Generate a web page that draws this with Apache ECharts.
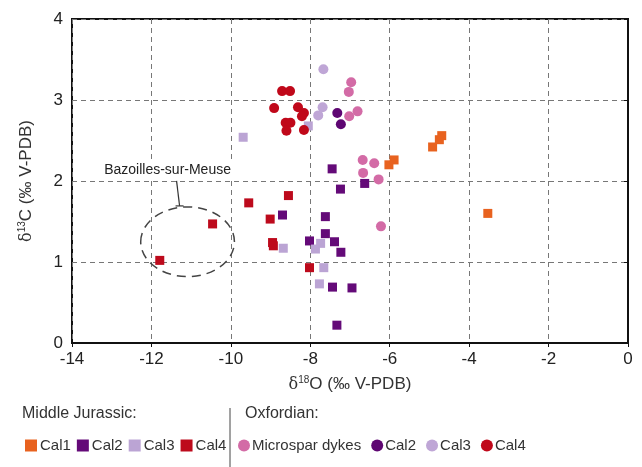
<!DOCTYPE html>
<html>
<head>
<meta charset="utf-8">
<script src="https://cdn.jsdelivr.net/npm/echarts@6/dist/echarts.min.js"></script>
<style>
  html, body { margin: 0; padding: 0; background: #fff; }
  #isotope { width: 642px; height: 467px; }
</style>
</head>
<body>
<div id="isotope"></div>
<script>
  // Middle Jurassic (squares)
  const mjCal1 = [[-6.02, 2.20], [-5.89, 2.26], [-4.92, 2.42], [-4.75, 2.51], [-4.69, 2.56], [-3.53, 1.60]];
  const mjCal2 = [[-7.45, 2.15], [-6.63, 1.97], [-7.24, 1.90], [-8.70, 1.58], [-7.62, 1.56], [-7.62, 1.35],
    [-8.02, 1.26], [-7.39, 1.25], [-7.23, 1.12], [-7.44, 0.69], [-6.95, 0.68], [-7.33, 0.22]];
  const mjCal3 = [[-9.69, 2.54], [-8.05, 2.68], [-8.68, 1.17], [-7.74, 1.23], [-7.87, 1.16], [-7.66, 0.93], [-7.77, 0.73]];
  const mjCal4 = [[-8.55, 1.82], [-9.55, 1.73], [-9.01, 1.53], [-10.46, 1.47], [-8.95, 1.24], [-8.93, 1.20],
    [-11.79, 1.02], [-8.02, 0.93]];

  // Oxfordian (circles)
  const oxMicrospar = [[-6.97, 3.22], [-7.03, 3.10], [-6.81, 2.86], [-7.02, 2.80], [-6.68, 2.26], [-6.39, 2.22],
    [-6.67, 2.10], [-6.28, 2.02], [-6.22, 1.44]];
  const oxCal2 = [[-7.32, 2.84], [-7.23, 2.70]];
  const oxCal3 = [[-7.67, 3.38], [-7.69, 2.91], [-7.80, 2.81]];
  const oxCal4 = [[-8.71, 3.11], [-8.51, 3.11], [-8.91, 2.90], [-8.31, 2.91], [-8.16, 2.84], [-8.21, 2.80],
    [-8.62, 2.72], [-8.50, 2.72], [-8.60, 2.62], [-8.16, 2.63]];

  // Bazoilles-sur-Meuse outline (centre and radii in data units)
  const siteCentre = [-11.09, 1.25];
  const siteRadius = [1.18, 0.43];

  const font = 'Liberation Sans, Arial, sans-serif';

  function sq(name, data, color) {
    return { name: name, type: 'scatter', symbol: 'rect', symbolSize: 9, data: data,
      itemStyle: { color: color, opacity: 1 }, z: 3 };
  }
  function dot(name, data, color) {
    return { name: name, type: 'scatter', symbol: 'circle', symbolSize: 10, data: data,
      itemStyle: { color: color, opacity: 1 }, z: 4 };
  }

  const chart = echarts.init(document.getElementById('isotope'));

  const nameRich = {
    d: { fontSize: 16, color: '#333', fontFamily: 'DejaVu Serif' },
    s: { fontSize: 10, color: '#333', padding: [0, 0, 9, 0] },
    n: { fontSize: 17, color: '#333' }
  };

  const staticGraphic = [
    { type: 'text', left: 22, top: 406, style: { text: 'Middle Jurassic:', font: '16px ' + font, fill: '#333' } },
    { type: 'text', left: 245, top: 406, style: { text: 'Oxfordian:', font: '16px ' + font, fill: '#333' } },
    { type: 'line', shape: { x1: 230, y1: 408, x2: 230, y2: 467 }, style: { stroke: '#444', lineWidth: 1 } }
  ];

  const option = {
    animation: false,
    textStyle: { fontFamily: font },
    grid: { left: 72, right: 14, top: 19, bottom: 124, show: true, borderColor: '#111', borderWidth: 2 },
    xAxis: {
      type: 'value', min: -14, max: 0, interval: 2,
      name: '{d|δ}{s|18}{n|O (‰ V-PDB)}',
      nameLocation: 'middle', nameGap: 32,
      nameTextStyle: { rich: nameRich },
      axisLine: { lineStyle: { color: '#111', width: 2 } },
      axisTick: { show: true, length: 4, lineStyle: { color: '#111' } },
      axisLabel: { fontSize: 17, color: '#222', margin: 8 },
      splitLine: { lineStyle: { color: '#777', type: [5, 4], width: 1 } }
    },
    yAxis: {
      type: 'value', min: 0, max: 4, interval: 1,
      name: '{d|δ}{s|13}{n|C (‰ V-PDB)}',
      nameLocation: 'middle', nameGap: 36, nameRotate: 90,
      nameTextStyle: { rich: nameRich },
      axisLine: { lineStyle: { color: '#111', width: 2 } },
      axisTick: { show: true, length: 4, lineStyle: { color: '#111' } },
      axisLabel: { fontSize: 17, color: '#222', margin: 9 },
      splitLine: { lineStyle: { color: '#777', type: [5, 4], width: 1 } }
    },
    legend: [
      {
        data: ['MJ Cal1', 'MJ Cal2', 'MJ Cal3', 'MJ Cal4'],
        left: 20, top: 433, icon: 'rect', itemWidth: 12, itemHeight: 12, itemGap: 6,
        formatter: function (n) { return n.split(' ').slice(1).join(' '); },
        textStyle: { fontSize: 15, color: '#333', padding: [0, 0, 0, -2] }
      },
      {
        data: ['OX Microspar dykes', 'OX Cal2', 'OX Cal3', 'OX Cal4'],
        left: 233, top: 433, icon: 'circle', itemWidth: 12, itemHeight: 12, itemGap: 10,
        formatter: function (n) { return n.split(' ').slice(1).join(' '); },
        textStyle: { fontSize: 15, color: '#333', padding: [0, 0, 0, -3] }
      }
    ],
    series: [
      sq('MJ Cal1', mjCal1, '#e8621f'),
      sq('MJ Cal2', mjCal2, '#640a78'),
      sq('MJ Cal3', mjCal3, '#bba4d4'),
      sq('MJ Cal4', mjCal4, '#bd0a1c'),
      dot('OX Microspar dykes', oxMicrospar, '#d36ba6'),
      dot('OX Cal2', oxCal2, '#5e0672'),
      dot('OX Cal3', oxCal3, '#bfa6d6'),
      dot('OX Cal4', oxCal4, '#c0081a')
    ],
    graphic: staticGraphic
  };

  chart.setOption(option);

  // site annotation placed from data coordinates
  const c = chart.convertToPixel({ gridIndex: 0 }, siteCentre);
  const e = chart.convertToPixel({ gridIndex: 0 }, [siteCentre[0] + siteRadius[0], siteCentre[1] + siteRadius[1]]);
  const rx = e[0] - c[0], ry = c[1] - e[1];
  const topY = c[1] - ry;
  chart.setOption({
    graphic: staticGraphic.concat([
      { type: 'ellipse', shape: { cx: c[0], cy: c[1], rx: rx, ry: ry }, z: 2,
        style: { fill: 'none', stroke: '#444', lineWidth: 1.5, lineDash: [9, 6] } },
      { type: 'line', z: 2, shape: { x1: c[0] - 11, y1: topY - 26, x2: c[0] - 8, y2: topY - 1 },
        style: { stroke: '#333', lineWidth: 1.2 } },
      { type: 'line', z: 2, shape: { x1: c[0] - 12, y1: topY - 1, x2: c[0] - 4, y2: topY - 1 },
        style: { stroke: '#333', lineWidth: 1.2 } },
      { type: 'text', z: 5, x: c[0] - 20, y: topY - 29,
        style: { text: 'Bazoilles-sur-Meuse', font: '14px ' + font, fill: '#222', align: 'center', verticalAlign: 'bottom',
          backgroundColor: '#fff', padding: [1, 2] } }
    ])
  }, { replaceMerge: ['graphic'] });

  window.addEventListener('resize', function () {
    chart.resize();
  });
</script>
</body>
</html>
